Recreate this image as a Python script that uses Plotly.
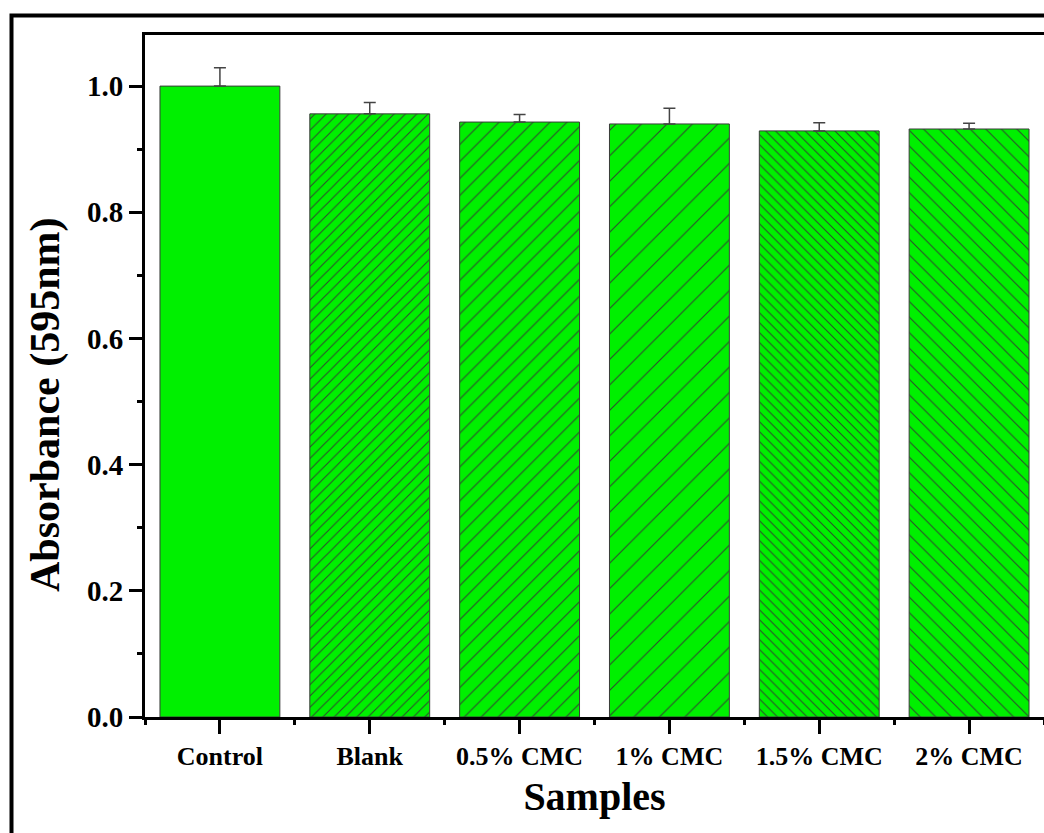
import plotly.graph_objects as go

# ---- data ----
samples = ["Control", "Blank", "0.5% CMC", "1% CMC", "1.5% CMC", "2% CMC"]
absorbance = [1.000, 0.956, 0.943, 0.940, 0.929, 0.932]
abs_error = [0.029, 0.018, 0.012, 0.025, 0.013, 0.009]
y_ticks = [0.0, 0.2, 0.4, 0.6, 0.8, 1.0]
y_minor_ticks = [0.1, 0.3, 0.5, 0.7, 0.9]

# ---- styles ----
hatch_shape = ["", "/", "/", "/", "\\", "\\"]
hatch_size = [8, 8, 12, 18, 7, 11]
hatch_solid = [0.0, 0.13, 0.09, 0.06, 0.15, 0.095]

FONT = "Liberation Serif, Times New Roman, serif"
GREEN = "#00f000"

W, H = 1044, 833
L, R, T, B = 145, 0, 35, 116
pw, ph = W - L - R, H - T - B
Y_RANGE = [0, 1.081]

fig = go.Figure()
fig.add_trace(go.Bar(
    x=samples, y=absorbance, width=0.8,
    marker=dict(color=GREEN, line=dict(color="#3a3a3a", width=1),
                pattern=dict(shape=hatch_shape, size=hatch_size,
                             solidity=hatch_solid, fgcolor="#2e4a2e",
                             bgcolor=GREEN, fillmode="replace")),
    error_y=dict(type="data", symmetric=False, array=abs_error,
                 arrayminus=[0] * len(abs_error), color="#444444",
                 thickness=1.5, width=6),
    showlegend=False,
))
# invisible trace carrying the minor-tick axes
fig.add_trace(go.Scatter(x=samples, y=[None] * len(samples), xaxis="x2",
                         yaxis="y2", showlegend=False, hoverinfo="skip"))

fig.update_layout(
    width=W, height=H,
    margin=dict(l=L, r=R, t=T, b=B, autoexpand=False),
    paper_bgcolor="white", plot_bgcolor="white",
    font=dict(family=FONT, color="black"),
    bargap=0.2,
    xaxis=dict(
        type="category", range=[-0.5, 5.5], showgrid=False, zeroline=False,
        showline=True, linewidth=3, linecolor="black", mirror=True,
        ticks="outside", ticklen=14, tickwidth=3, tickcolor="black",
        tickfont=dict(family=FONT, size=26, weight="bold"),
        title=dict(text="Samples", standoff=12,
                   font=dict(family=FONT, size=40, weight="bold")),
    ),
    xaxis2=dict(
        type="category", range=[-0.5, 5.5], overlaying="x", anchor="y2",
        side="bottom", tickson="boundaries", ticks="outside", ticklen=7,
        tickwidth=3, tickcolor="black", showticklabels=False,
        showgrid=False, zeroline=False, showline=False,
    ),
    yaxis=dict(
        range=Y_RANGE, showgrid=False, zeroline=False,
        showline=True, linewidth=3, linecolor="black",
        tickmode="array", tickvals=y_ticks, tickformat=".1f",
        ticks="outside", ticklen=13, tickwidth=3, tickcolor="black",
        tickfont=dict(family=FONT, size=29, weight="bold"),
    ),
    yaxis2=dict(
        range=Y_RANGE, overlaying="y", anchor="x2", side="left",
        tickmode="array", tickvals=y_minor_ticks, ticks="outside",
        ticklen=7, tickwidth=3, tickcolor="black", showticklabels=False,
        showgrid=False, zeroline=False, showline=False,
    ),
    annotations=[
        dict(text="Absorbance (595nm)", xref="paper", yref="paper",
             x=(45 - L) / pw, y=(717 - 405) / ph, textangle=-90,
             showarrow=False, xanchor="center", yanchor="middle",
             font=dict(family=FONT, size=42, weight="bold", color="black")),
    ],
    shapes=[
        dict(type="rect", xref="paper", yref="paper",
             x0=(11.5 - L) / pw, x1=1.2,
             y0=-0.5, y1=1 + (T - 15.5) / ph,
             line=dict(color="black", width=4), fillcolor="rgba(0,0,0,0)",
             layer="above"),
    ],
)

fig.write_html("out.html")
